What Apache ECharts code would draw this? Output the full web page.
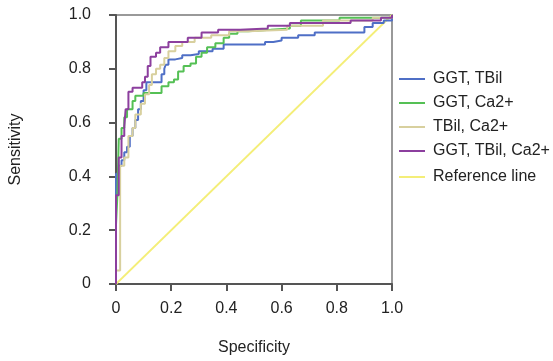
<!DOCTYPE html>
<html>
<head>
<meta charset="utf-8">
<script src="https://cdn.jsdelivr.net/npm/echarts@6/dist/echarts.min.js"></script>
<style>
  html, body { margin: 0; padding: 0; background: #fff; }
  #chart { width: 553px; height: 361px; }
</style>
</head>
<body>
<div id="chart"></div>
<script>
// ROC curves: [1 - specificity, sensitivity] step vertices
const ggtTbil = [
  [0, 0], [0, 0.41], [0.01, 0.44], [0.02, 0.46], [0.03, 0.49], [0.04, 0.51], [0.05, 0.55],
  [0.06, 0.58], [0.07, 0.61], [0.08, 0.65], [0.09, 0.68], [0.10, 0.72], [0.11, 0.75],
  [0.155, 0.75], [0.165, 0.78], [0.175, 0.80], [0.18, 0.815], [0.19, 0.835], [0.215, 0.84],
  [0.24, 0.85], [0.27, 0.855], [0.30, 0.865], [0.35, 0.875], [0.39, 0.89], [0.525, 0.89],
  [0.54, 0.90], [0.57, 0.905], [0.60, 0.915], [0.66, 0.925], [0.72, 0.935],
  [0.87, 0.935], [0.90, 0.955], [0.93, 0.97], [0.97, 0.98], [1, 1]
];
const ggtCa = [
  [0, 0], [0, 0.22], [0.005, 0.33], [0.01, 0.54], [0.02, 0.58], [0.03, 0.62], [0.04, 0.65],
  [0.06, 0.68], [0.07, 0.70], [0.10, 0.71], [0.155, 0.71], [0.165, 0.735], [0.19, 0.75],
  [0.21, 0.76], [0.225, 0.79], [0.245, 0.81], [0.27, 0.82], [0.29, 0.845], [0.31, 0.86],
  [0.33, 0.88], [0.36, 0.895], [0.39, 0.915], [0.41, 0.93], [0.44, 0.94], [0.48, 0.945],
  [0.56, 0.95], [0.63, 0.96], [0.67, 0.98], [0.81, 0.99], [0.97, 0.99], [1, 1]
];
const tbilCa = [
  [0, 0], [0, 0.05], [0.015, 0.07], [0.015, 0.44], [0.03, 0.47], [0.045, 0.55], [0.06, 0.58],
  [0.07, 0.63], [0.09, 0.67], [0.105, 0.705], [0.12, 0.74], [0.13, 0.78], [0.145, 0.80],
  [0.16, 0.815], [0.175, 0.84], [0.19, 0.865], [0.215, 0.885], [0.24, 0.90], [0.285, 0.915],
  [0.345, 0.925], [0.41, 0.94], [0.48, 0.945], [0.62, 0.96], [0.75, 0.98], [0.93, 0.99], [1, 1]
];
const ggtTbilCa = [
  [0, 0], [0, 0.33], [0.01, 0.345], [0.01, 0.47], [0.02, 0.55], [0.03, 0.585], [0.035, 0.65],
  [0.045, 0.715], [0.06, 0.73], [0.095, 0.75], [0.105, 0.77], [0.115, 0.81], [0.125, 0.845],
  [0.145, 0.86], [0.16, 0.88], [0.19, 0.90], [0.26, 0.915], [0.31, 0.935], [0.37, 0.945],
  [0.45, 0.95], [0.55, 0.96], [0.63, 0.97], [0.85, 0.98], [0.96, 0.99], [1, 1]
];
const referenceLine = [[0, 0], [1, 1]];

const FONT = "Liberation Sans, Arial, sans-serif";
const fmt = (v) => (v === 0 ? "0" : v.toFixed(1));

const curve = (name, data, color) => ({
  name,
  type: "line",
  step: "end",
  data,
  showSymbol: false,
  lineStyle: { color, width: 2 },
  itemStyle: { color },
});

const axisBase = {
  type: "value",
  min: 0,
  max: 1,
  interval: 0.2,
  axisLine: { show: true, lineStyle: { color: "#555", width: 2 } },
  axisTick: { show: true, inside: false, length: 7, lineStyle: { color: "#555", width: 2 } },
  splitLine: { show: false },
  nameTextStyle: { color: "#222", fontSize: 16, fontFamily: FONT },
};

const legendText = { color: "#222", fontSize: 16, fontFamily: FONT, padding: [0, 0, 0, 3] };
const lineIcon = "path://M0,6 L26,6 L26,8 L0,8 Z";

const chart = echarts.init(document.getElementById("chart"), null, { renderer: "canvas" });
chart.setOption({
  animation: false,
  grid: {
    left: 114, right: 161, top: 15, bottom: 74,
    show: true, borderColor: "#999", borderWidth: 2,
  },
  legend: [
    {
      orient: "vertical", left: 394, top: 66, itemWidth: 26, itemHeight: 14, itemGap: 8,
      icon: lineIcon,
      data: ["GGT, TBil", "GGT, Ca2+", "TBil, Ca2+", "GGT, TBil, Ca2+"],
      textStyle: legendText,
    },
    {
      orient: "vertical", left: 394, top: 164, itemWidth: 26, itemHeight: 14,
      icon: lineIcon,
      data: ["Reference line"],
      textStyle: legendText,
    },
  ],
  xAxis: {
    ...axisBase,
    name: "Specificity",
    nameLocation: "middle",
    nameGap: 56,
    axisLabel: { color: "#222", fontSize: 16, fontFamily: FONT, margin: 17, formatter: fmt },
  },
  yAxis: {
    ...axisBase,
    name: "Sensitivity",
    nameLocation: "middle",
    nameGap: 92,
    axisLabel: { color: "#222", fontSize: 16, fontFamily: FONT, margin: 25, formatter: fmt },
  },
  series: [
    {
      name: "Reference line", type: "line", data: referenceLine, showSymbol: false,
      lineStyle: { color: "#f4ee78", width: 1.8 }, itemStyle: { color: "#f4ee78" },
    },
    curve("GGT, TBil", ggtTbil, "#4f6fc6"),
    curve("GGT, Ca2+", ggtCa, "#55c055"),
    curve("TBil, Ca2+", tbilCa, "#d8d09e"),
    curve("GGT, TBil, Ca2+", ggtTbilCa, "#8c3f9e"),
  ],
});
</script>
</body>
</html>
